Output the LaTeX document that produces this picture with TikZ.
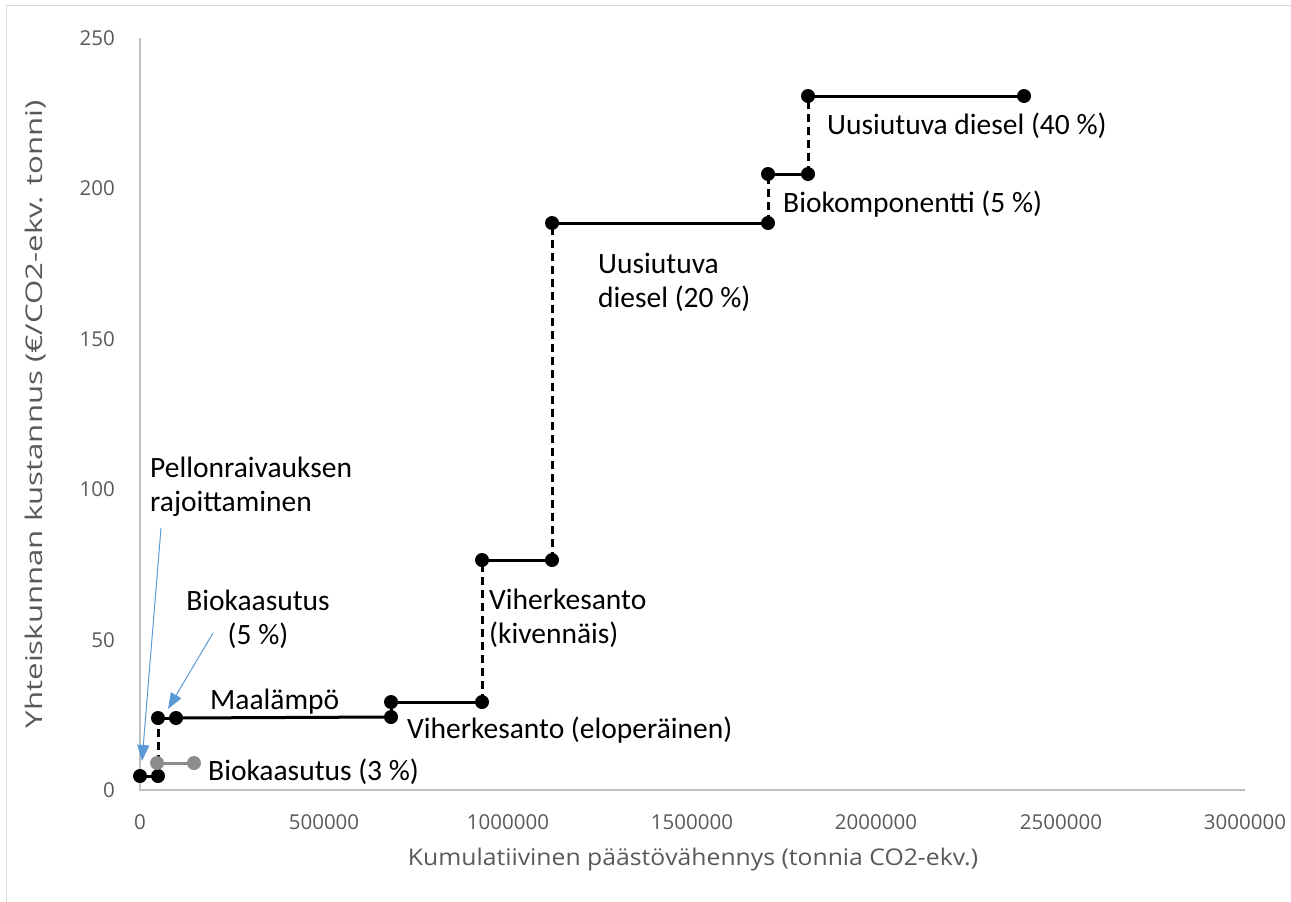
\documentclass[tikz,border=0pt]{standalone}
\usepackage{fontspec}
\setmainfont{Carlito}
\newfontfamily\axisfont{Open Sans}
\usetikzlibrary{arrows.meta}
\definecolor{axisgray}{HTML}{BFBFBF}
\definecolor{tickgray}{HTML}{595959}
\definecolor{framegray}{HTML}{D9D9D9}
\definecolor{calloutblue}{HTML}{5B9BD5}
\definecolor{seriesgray}{HTML}{8C8C8C}
\begin{document}
\begin{tikzpicture}[x=1pt,y=-1pt,
  dot/.style={circle,fill=black,inner sep=0pt,minimum size=14pt},
  gdot/.style={circle,fill=seriesgray,inner sep=0pt,minimum size=14pt},
  seg/.style={line width=3pt},
  dseg/.style={line width=3pt,dash pattern=on 8pt off 5pt},
  gseg/.style={line width=3pt,draw=seriesgray},
  lbl/.style={font=\fontsize{29.5}{35}\selectfont,inner sep=0pt,anchor=base west},
  tickl/.style={font=\axisfont\fontsize{20.5}{24}\selectfont,text=tickgray,inner sep=0pt},
  axtitle/.style={font=\axisfont\fontsize{23}{27}\selectfont,text=tickgray,inner sep=0pt},
  axisline/.style={draw=axisgray,line width=2pt},
  callout/.style={draw=calloutblue,line width=1pt,-{Triangle[length=16pt,width=12pt]}}]
\useasboundingbox (0,0) rectangle (1291,902);
% frame
\coordinate (fr1) at (6.5,902);
\coordinate (fr2) at (6.5,5.5);
\coordinate (fr3) at (1291,5.5);
\draw[framegray,line width=1.5pt] (fr1) -- (fr2) -- (fr3);
% axes
\coordinate (o) at (140,790);
\coordinate (ytop) at (140,38);
\coordinate (xend) at (1245,790);
\draw[axisline] (ytop) -- (o) -- (xend);
% y tick labels
\foreach \v/\yy in {0/790,50/640,100/489,150/339,200/188,250/38}
  \node[tickl,anchor=east] (yt\v) at (115,\yy) {\v};
% x tick labels
\foreach \v/\xx [count=\i] in {0/140,500000/324,1000000/508,1500000/692,2000000/876,2500000/1061,3000000/1245}
  \node[tickl] (xt\i) at (\xx,822) {\v};
% axis titles
\node[axtitle] (xtitle) at (693,860) {\resizebox{570pt}{\height}{Kumulatiivinen päästövähennys (tonnia CO2-ekv.)}};
\node[axtitle,rotate=90] (ytitle) at (36,414) {\resizebox{628pt}{\height}{Yhteiskunnan kustannus (€/CO2-ekv. tonni)}};
% data points
\coordinate (a1) at (140,776);
\coordinate (a2) at (158,776);
\coordinate (b1) at (158,718);
\coordinate (b2) at (176,718);
\coordinate (c1) at (391,717);
\coordinate (c2) at (391,702);
\coordinate (c3) at (482,702);
\coordinate (d1) at (482,560);
\coordinate (d2) at (552,560);
\coordinate (e1) at (552,223);
\coordinate (e2) at (768,223);
\coordinate (f1) at (768,174);
\coordinate (f2) at (808,174);
\coordinate (g1) at (808,96);
\coordinate (g2) at (1024,96);
\coordinate (h1) at (157,763);
\coordinate (h2) at (194,763);
% segments
\draw[seg] (a1) -- (a2);
\draw[dseg] (a2) -- (b1);
\draw[seg] (b1) -- (b2);
\draw[seg] (b2) -- (c1);
\draw[dseg] (c1) -- (c2);
\draw[seg] (c2) -- (c3);
\draw[dseg] (c3) -- (d1);
\draw[seg] (d1) -- (d2);
\draw[dseg] (d2) -- (e1);
\draw[seg] (e1) -- (e2);
\draw[dseg] (e2) -- (f1);
\draw[seg] (f1) -- (f2);
\draw[dseg] (f2) -- (g1);
\draw[seg] (g1) -- (g2);
% markers
\foreach \p in {a1,a2,b1,b2,c1,c2,c3,d1,d2,e1,e2,f1,f2,g1,g2}
  \node[dot] (m\p) at (\p) {};
\draw[gseg] (h1) -- (h2);
\node[gdot] (mh1) at (h1) {};
\node[gdot] (mh2) at (h2) {};
% labels
\node[lbl] (lp1) at (150,477) {Pellonraivauksen};
\node[lbl] (lp2) at (150,511) {rajoittaminen};
\node[lbl,anchor=base] (lb1) at (258,610) {Biokaasutus};
\node[lbl,anchor=base] (lb2) at (258,644) {(5 \%)};
\node[lbl] (lm) at (210,709) {Maalämpö};
\node[lbl] (lb3) at (208,780) {Biokaasutus (3 \%)};
\node[lbl] (lve) at (407,738) {Viherkesanto (eloperäinen)};
\node[lbl] (lvk1) at (489,609) {Viherkesanto};
\node[lbl] (lvk2) at (489,643) {(kivennäis)};
\node[lbl] (lu1) at (598,273) {Uusiutuva};
\node[lbl] (lu2) at (598,307) {diesel (20 \%)};
\node[lbl] (lbk) at (783,212) {Biokomponentti (5 \%)};
\node[lbl] (lu4) at (827,134) {Uusiutuva diesel (40 \%)};
% callouts
\coordinate (cs1) at (161,528);
\coordinate (ce1) at (142,761);
\coordinate (cs2) at (213,633);
\coordinate (ce2) at (168,709);
\draw[callout] (cs1) -- (ce1);
\draw[callout] (cs2) -- (ce2);
\end{tikzpicture}
\end{document}
